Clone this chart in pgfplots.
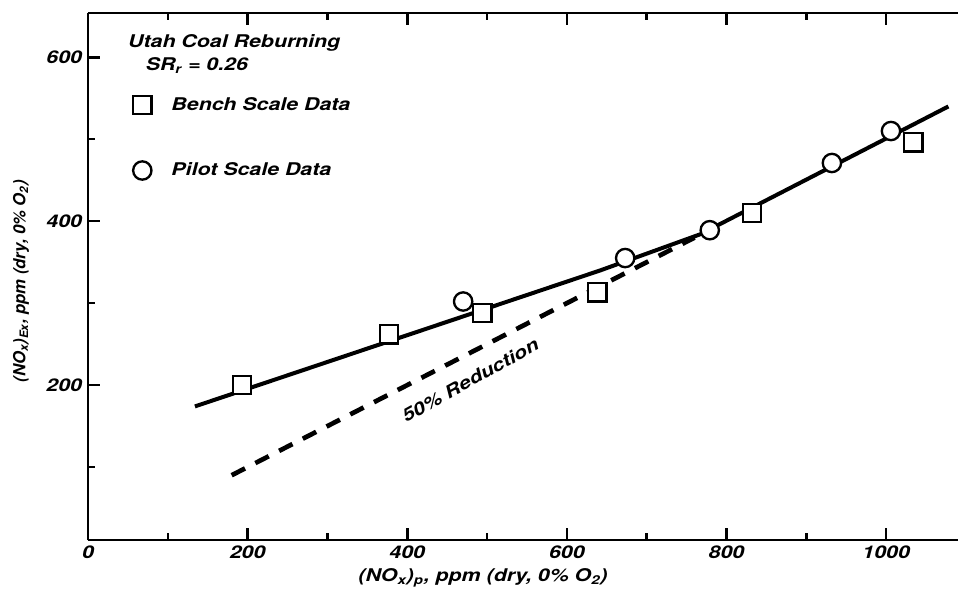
\documentclass[border=0pt]{standalone}
\usepackage{fontspec}
\setmainfont{TeX Gyre Heros}
\newfontfamily\widefont{TeX Gyre Heros}[FakeStretch=1.22]
\newcommand\chartfont{\widefont\bfseries\itshape\fontsize{10.5}{12}\selectfont}
\usepackage{pgfplots}
\pgfplotsset{compat=1.18}

% bench and pilot scale data
\pgfplotstableread{
x y
193 200
377 262
494 288
638 313
832 410
1034 496
}\benchdata
\pgfplotstableread{
x y
470 302
673 355
779 389
932 471
1006 510
}\pilotdata

\begin{document}
\begin{tikzpicture}
  \begin{axis}[
      scale only axis,
      width=522pt, height=316.2pt,
      xmin=0, xmax=1090, ymin=11, ymax=654,
      axis x line=box, axis y line=left,
      axis line style={line width=1.4pt, -},
      xtick={0,200,...,1000}, minor xtick={100,300,...,900},
      ytick={200,400,600}, minor ytick={100,300,500},
      tick align=inside,
      major tick length=7pt, minor tick length=4pt,
      tick style={black, line width=1.5pt},
      ticklabel style={font=\chartfont},
      /pgf/number format/assume math mode=true,
      /pgf/number format/1000 sep={},
      xlabel={(NO\textsubscript{x})\textsubscript{p}, ppm (dry, 0\% O\textsubscript{2})},
      ylabel={(NO\textsubscript{x})\textsubscript{Ex}, ppm (dry, 0\% O\textsubscript{2})},
      xlabel style={at={(axis description cs:0.454,-0.0721)}, anchor=center, font=\chartfont},
      ylabel style={at={(axis description cs:-0.077,0.491)}, anchor=center,
        font=\bfseries\itshape\fontsize{10}{12}\selectfont},
      legend style={draw=none, fill=none, inner sep=0pt,
        at={(axis description cs:0.0515,0.847)}, anchor=north west,
        row sep=26pt, font=\chartfont, nodes={inner xsep=12pt}},
      legend cell align=left,
    ]
    % fitted line and 50% reduction line
    \addplot[black, line width=2.4pt, forget plot] coordinates {(134,174) (642,340) (767,384) (1078,540)};
    \addplot[black, line width=2.8pt, dash pattern=on 9pt off 7pt, forget plot] coordinates {(180,90) (760,380)};

    \addplot[only marks, mark=square*, mark size=5.5pt,
      mark options={fill=white, draw=black, line width=1.4pt}] table {\benchdata};
    \addlegendentry{Bench Scale Data}
    \addplot[only marks, mark=*, mark size=5.5pt,
      mark options={fill=white, draw=black, line width=1.4pt}] table {\pilotdata};
    \addlegendentry{Pilot Scale Data}

    \node[anchor=west, inner sep=0pt, font=\chartfont] at (axis cs:50,618) {Utah Coal Reburning};
    \node[anchor=west, inner sep=0pt, font=\chartfont] at (axis cs:72,590) {SR\textsubscript{r} = 0.26};
    \node[rotate=29, font=\chartfont] at (axis cs:479,206) {50\% Reduction};
  \end{axis}
  \pgfresetboundingbox
  \path (current axis.south west) ++(-52.8pt,-32.4pt) rectangle ++(574.8pt,356.4pt);
\end{tikzpicture}
\end{document}
